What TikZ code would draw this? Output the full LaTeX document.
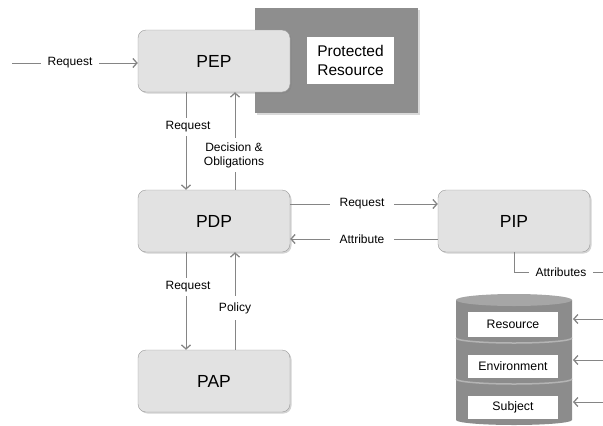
\documentclass[tikz,border=0pt]{standalone}
\usepackage{fontspec}
\setmainfont{Liberation Sans}
\usetikzlibrary{shadows,arrows.meta}
\definecolor{boxfill}{HTML}{E2E2E2}
\definecolor{boxline}{HTML}{9A9A9A}
\definecolor{lineclr}{HTML}{858585}
\definecolor{resgrey}{HTML}{8E8E8E}
\definecolor{cylbody}{HTML}{8C8C8C}
\definecolor{cyltop}{HTML}{A6A6A6}
\definecolor{cylsep}{HTML}{B4B4B4}
\tikzset{
  box/.style={draw=boxline, fill=boxfill, rounded corners=8pt, minimum width=152pt,
    minimum height=62pt, font=\fontsize{17.5}{20}\selectfont,
    drop shadow={opacity=0.35, shadow xshift=1.5pt, shadow yshift=-1.5pt}},
  lbl/.style={fill=white, inner xsep=7pt, inner ysep=2pt, font=\fontsize{12}{14}\selectfont, align=center},
  dblbl/.style={fill=white, inner sep=0pt, minimum width=90pt, font=\fontsize{12.3}{14}\selectfont},
  flow/.style={draw=lineclr, line width=0.9pt},
  >={Straight Barb[length=4pt, width=9pt, line width=1.3pt]}
}
\begin{document}
\begin{tikzpicture}[x=1pt,y=-1pt]
\useasboundingbox (0,0) rectangle (603,426);
% protected resource behind PEP
\node[fill=resgrey, minimum width=163pt, minimum height=105pt, inner sep=0pt,
  drop shadow={opacity=0.3, shadow xshift=1.5pt, shadow yshift=-1.5pt}] (prot) at (336.5,60.5) {};
\node[fill=white, minimum width=87pt, minimum height=47pt, inner sep=0pt, align=center,
  font=\fontsize{15.5}{19}\selectfont] (protlbl) at (350.5,60.5) {Protected\\Resource};
% the boxes
\node[box] (pep) at (214,61) {PEP};
\node[box] (pdp) at (214,221) {PDP};
\node[box] (pip) at (514,221) {PIP};
\node[box] (pap) at (214,381) {PAP};
% incoming request
\coordinate (client) at (12,63);
\draw[flow,->] (client) -- ([yshift=-2pt]pep.west);
\node[lbl] (reqin) at (70,63) {Request};
% PEP <-> PDP
\draw[flow,->] ([xshift=-28pt]pep.south) -- ([xshift=-28pt]pdp.north);
\draw[flow,->] ([xshift=21pt]pdp.north) -- ([xshift=21pt]pep.south);
\node[lbl, inner xsep=2pt, inner ysep=4pt] (req1) at (188,127) {Request};
\node[lbl, inner xsep=2pt, inner ysep=4pt] (dec) at (234,155) {Decision \&\\Obligations};
% PDP <-> PIP
\draw[flow,->] ([yshift=17pt]pdp.east) -- ([yshift=17pt]pip.west);
\draw[flow,->] ([yshift=-18pt]pip.west) -- ([yshift=-18pt]pdp.east);
\node[lbl, inner xsep=10pt] (req2) at (362,204) {Request};
\node[lbl, inner xsep=10pt] (attr) at (362,239) {Attribute};
% PDP <-> PAP
\draw[flow,->] ([xshift=-28pt]pdp.south) -- ([xshift=-28pt]pap.north);
\draw[flow,->] ([xshift=21pt]pap.north) -- ([xshift=21pt]pdp.south);
\node[lbl, inner xsep=2pt, inner ysep=4pt] (req3) at (188,287) {Request};
\node[lbl, inner xsep=2pt, inner ysep=6pt] (pol) at (235,308) {Policy};
% attributes out of PIP
\coordinate (attrout) at (603,272);
\draw[flow] (pip.south) |- (attrout);
\node[lbl] (attrs) at (561,272) {Attributes};
% attribute store
\fill[cylbody] (456,300) -- (456,420) arc[start angle=180, end angle=360, x radius=58pt, y radius=5pt] -- (572,300) -- cycle;
\fill[cyltop] (514,300) ellipse[x radius=58pt, y radius=6pt];
\draw[cylsep, line width=1.5pt] (456,338) arc[start angle=180, end angle=360, x radius=58pt, y radius=5pt];
\draw[cylsep, line width=1.5pt] (456,379) arc[start angle=180, end angle=360, x radius=58pt, y radius=5pt];
\node[dblbl, minimum height=25pt] (res) at (513,324.5) {Resource};
\node[dblbl, minimum height=23pt] (env) at (513,366.5) {Environment};
\node[dblbl, minimum height=23pt] (subj) at (513,407.5) {Subject};
\coordinate (resin) at (603,319);
\coordinate (envin) at (603,360);
\coordinate (subjin) at (603,402);
\draw[flow,->] (resin) -- (573,319);
\draw[flow,->] (envin) -- (573,360);
\draw[flow,->] (subjin) -- (573,402);
\end{tikzpicture}
\end{document}
